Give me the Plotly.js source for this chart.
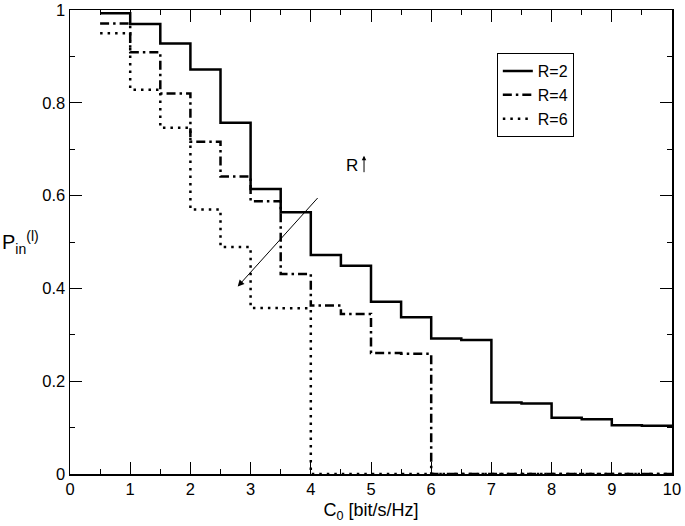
<!DOCTYPE html>
<html>
<head>
<meta charset="utf-8">
<script src="https://cdn.plot.ly/plotly-3.0.1.min.js"></script>
<style>html,body{margin:0;padding:0;background:#fff;}#chart{width:685px;height:526px;}</style>
</head>
<body>
<div id="chart"></div>
<script>
// Step boundaries of C0 [bit/s/Hz]
const c0 = [0.5,1,1.5,2,2.5,3,3.5,4,4.5,5,5.5,6,6.5,7,7.5,8,8.5,9,9.5,10];
// P_in^(l) per interval (last value repeated to close the final step)
const pR2 = [0.993,0.970,0.928,0.872,0.757,0.614,0.564,0.472,0.449,0.371,0.338,0.292,0.289,0.154,0.152,0.121,0.118,0.105,0.104,0.104];
const pR4 = [0.971,0.909,0.820,0.716,0.641,0.588,0.431,0.363,0.345,0.261,0.259,0,0,0,0,0,0,0,0,0];
const pR6 = [0.950,0.828,0.746,0.570,0.489,0.358,0.357,0,0,0,0,0,0,0,0,0,0,0,0,0];
const names = ["R=2","R=4","R=6"];
const xTicks = [0,1,2,3,4,5,6,7,8,9,10];
const yTicks = [0,0.2,0.4,0.6,0.8,1];
const arrowTail = [4.136,0.598];
const arrowHead = [2.786,0.404];

const FONT = "Liberation Sans, Arial, Helvetica, sans-serif";

const traces = [
  {x:c0, y:pR2, name:names[0], mode:"lines", line:{shape:"hv", color:"#000", width:2.5, dash:"solid"}},
  {x:c0, y:pR4, name:names[1], mode:"lines", line:{shape:"hv", color:"#000", width:2.5, dash:"9px,4px,2.5px,4px"}},
  {x:c0, y:pR6, name:names[2], mode:"lines", line:{shape:"hv", color:"#000", width:2.5, dash:"2.5px,5px"}}
];

const axisCommon = {
  showgrid:false, zeroline:false, showline:true, linecolor:"#000", linewidth:1.5,
  mirror:"allticks", ticks:"inside", ticklen:12, tickwidth:1, tickcolor:"#000",
  tickfont:{family:FONT, size:16.5, color:"#000"}
};

const layout = {
  width:685, height:526,
  margin:{l:70, r:13, t:10, b:52},
  paper_bgcolor:"#fff", plot_bgcolor:"#fff",
  font:{family:FONT, color:"#000"},
  showlegend:true,
  legend:{x:0.709, y:0.907, xanchor:"left", yanchor:"top", bgcolor:"#fff",
          bordercolor:"#000", borderwidth:1, font:{family:FONT, size:16, color:"#000"},
          tracegroupgap:0},
  xaxis:Object.assign({}, axisCommon, {
    range:[0,10], tickmode:"array", tickvals:xTicks, ticktext:xTicks.map(String),
    minor:{dtick:0.5, ticks:"inside", ticklen:5, tickcolor:"#000", tickwidth:1, showgrid:false},
    title:{text:"C<sub>0</sub> [bit/s/Hz]", font:{family:FONT, size:18, color:"#000"}, standoff:6}
  }),
  yaxis:Object.assign({}, axisCommon, {
    range:[0,1], tickmode:"array", tickvals:yTicks, ticktext:yTicks.map(String),
    minor:{dtick:0.1, ticks:"inside", ticklen:5, tickcolor:"#000", tickwidth:1, showgrid:false}
  }),
  annotations:[
    {xref:"paper", yref:"paper", x:-0.117, y:0.5, xanchor:"left", yanchor:"middle",
     text:"P<sub>in</sub><sup>(l)</sup>", showarrow:false, font:{family:FONT, size:20, color:"#000"}},
    {xref:"x", yref:"y", x:4.684, y:0.664, text:"R", showarrow:false,
     font:{family:FONT, size:17, color:"#000"}},
    {xref:"x", yref:"y", x:4.884, y:0.686, ax:0, ay:18, text:"", showarrow:true,
     arrowhead:2, arrowsize:0.9, arrowwidth:1, arrowcolor:"#000"},
    {xref:"x", yref:"y", axref:"x", ayref:"y", x:arrowHead[0], y:arrowHead[1],
     ax:arrowTail[0], ay:arrowTail[1], text:"", showarrow:true, arrowhead:2,
     arrowsize:1.3, arrowwidth:1, arrowcolor:"#000"}
  ]
};

Plotly.newPlot("chart", traces, layout, {displayModeBar:false, staticPlot:true});
</script>
</body>
</html>
